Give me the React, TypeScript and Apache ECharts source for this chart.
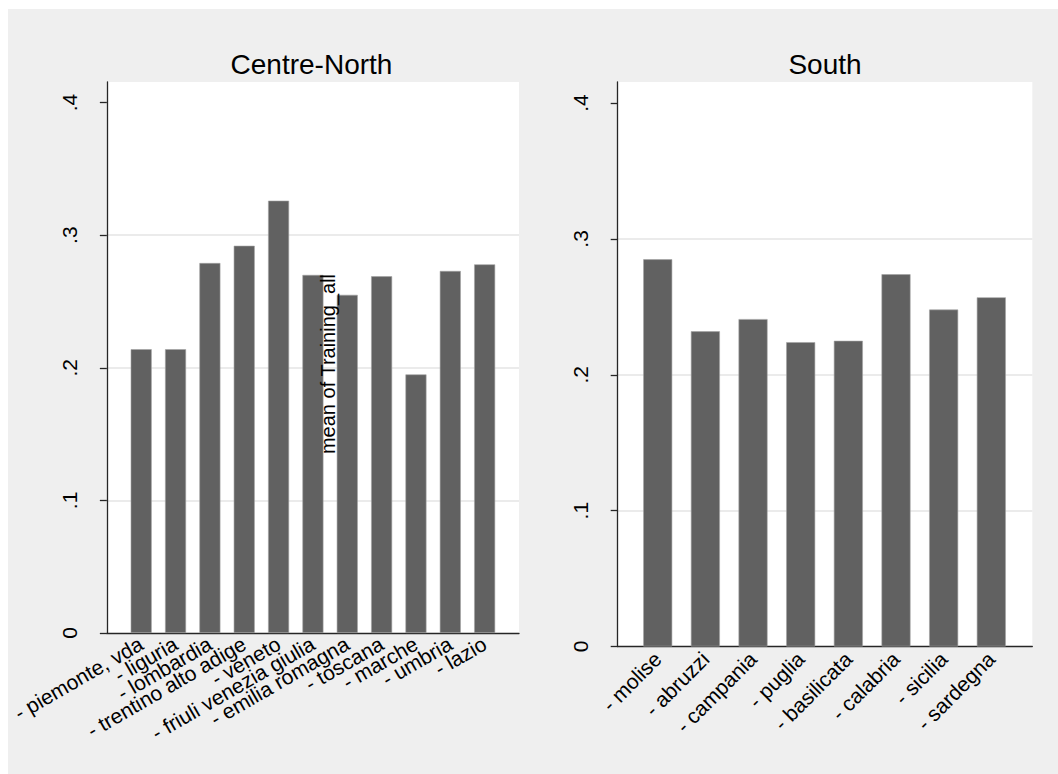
import React, { useEffect, useRef } from "react";
import * as echarts from "echarts";

const northRegions = [
  "- piemonte, vda",
  "- liguria",
  "- lombardia",
  "- trentino alto adige",
  "- veneto",
  "- friuli venezia giulia",
  "- emilia romagna",
  "- toscana",
  "- marche",
  "- umbria",
  "- lazio",
];
const northValues = [0.214, 0.214, 0.279, 0.292, 0.326, 0.270, 0.255, 0.269, 0.195, 0.273, 0.278];

const southRegions = [
  "- molise",
  "- abruzzi",
  "- campania",
  "- puglia",
  "- basilicata",
  "- calabria",
  "- sicilia",
  "- sardegna",
];
const southValues = [0.285, 0.232, 0.241, 0.224, 0.225, 0.274, 0.248, 0.257];

const yTicks = [0, 0.1, 0.2, 0.3, 0.4];
const panelTitles = ["Centre-North", "South"];
const yTitle = "mean of Training_all";

const FONT = "'Liberation Sans', Arial, Helvetica, sans-serif";
const AXIS_COLOR = "#262626";
const BAR_COLOR = "#616161";
const GRID_COLOR = "#e4e4e4";

const fmtY = (v: number) => (v === 0 ? "0" : "." + Math.round(v * 10));

// indices: which category labels this axis carries (split so neighbours never collide)
function mkX(
  gridIndex: number,
  min: number,
  max: number,
  names: string[],
  rotate: number,
  indices: number[],
  showLine: boolean
) {
  return {
    type: "value",
    gridIndex,
    position: "bottom",
    offset: 0,
    min,
    max,
    axisLine: { show: showLine, onZero: false, lineStyle: { color: AXIS_COLOR, width: 1.3 } },
    axisTick: { show: false },
    splitLine: { show: false },
    axisLabel: {
      customValues: indices,
      formatter: (v: number) => names[Math.round(v)] ?? "",
      rotate,
      margin: 9,
      fontSize: 21,
      fontFamily: FONT,
      color: "#000",
      hideOverlap: false,
      showMinLabel: true,
      showMaxLabel: true,
    },
  };
}

function mkY(gridIndex: number) {
  return {
    type: "value",
    gridIndex,
    min: 0,
    max: 0.4155,
    interval: 0.1,
    axisLine: { show: true, onZero: false, lineStyle: { color: AXIS_COLOR, width: 1.3 } },
    axisTick: {
      show: true,
      customValues: yTicks,
      length: 7,
      lineStyle: { color: AXIS_COLOR, width: 1.3 },
    },
    axisLabel: {
      customValues: yTicks,
      formatter: fmtY,
      rotate: 90,
      margin: 27,
      fontSize: 21,
      fontFamily: FONT,
      color: "#000",
      showMinLabel: true,
      showMaxLabel: true,
    },
    splitLine: {
      show: true,
      showMinLine: false,
      showMaxLine: false,
      lineStyle: { color: [GRID_COLOR, GRID_COLOR, GRID_COLOR, "rgba(0,0,0,0)"], width: 1.5 },
    },
  };
}

export default function App() {
  const ref = useRef<HTMLDivElement>(null);

  useEffect(() => {
    if (!ref.current) return;
    const chart = echarts.init(ref.current, undefined, { renderer: "svg" });
    const barStyle = { color: BAR_COLOR, borderColor: "#a3a3a3", borderWidth: 0.6 };
    const northIdx = northRegions.map((_, i) => i);
    const southIdx = southRegions.map((_, i) => i);
    chart.setOption({
      animation: false,
      backgroundColor: "#efefef",
      textStyle: { fontFamily: FONT },
      grid: [
        { left: 96, top: 73, right: 539, bottom: 141, show: true, backgroundColor: "#ffffff", borderWidth: 0 },
        { left: 609.7, top: 73, right: 25.7, bottom: 127.5, show: true, backgroundColor: "#ffffff", borderWidth: 0 },
      ],
      xAxis: [
        mkX(0, -1, 11, northRegions, 30, northIdx.filter((i) => i % 2 === 0), true),
        mkX(0, -1, 11, northRegions, 30, northIdx.filter((i) => i % 2 === 1), false),
        mkX(1, -0.84, 7.86, southRegions, 45, southIdx, true),
      ],
      yAxis: [mkY(0), mkY(1)],
      series: [
        {
          type: "bar",
          name: panelTitles[0],
          xAxisIndex: 0,
          yAxisIndex: 0,
          barWidth: 21,
          data: northValues.map((v, i) => [i, v]),
          itemStyle: barStyle,
        },
        {
          type: "bar",
          name: panelTitles[1],
          xAxisIndex: 2,
          yAxisIndex: 1,
          barWidth: 29,
          data: southValues.map((v, i) => [i, v]),
          itemStyle: barStyle,
        },
      ],
      graphic: [
        {
          type: "text",
          x: 303.5,
          y: 55,
          style: { text: panelTitles[0], fontSize: 28, fontFamily: FONT, fill: "#000", align: "center", verticalAlign: "middle" },
        },
        {
          type: "text",
          x: 817,
          y: 55,
          style: { text: panelTitles[1], fontSize: 28, fontFamily: FONT, fill: "#000", align: "center", verticalAlign: "middle" },
        },
        {
          type: "text",
          x: 320,
          y: 355,
          rotation: Math.PI / 2,
          z: 100,
          style: { text: yTitle, fontSize: 20, fontFamily: FONT, fill: "#000", align: "center", verticalAlign: "middle" },
        },
      ],
    });
    return () => chart.dispose();
  }, []);

  return (
    <div
      ref={ref}
      style={{ position: "fixed", left: 8, top: 9, width: 1050, height: 765 }}
    />
  );
}
